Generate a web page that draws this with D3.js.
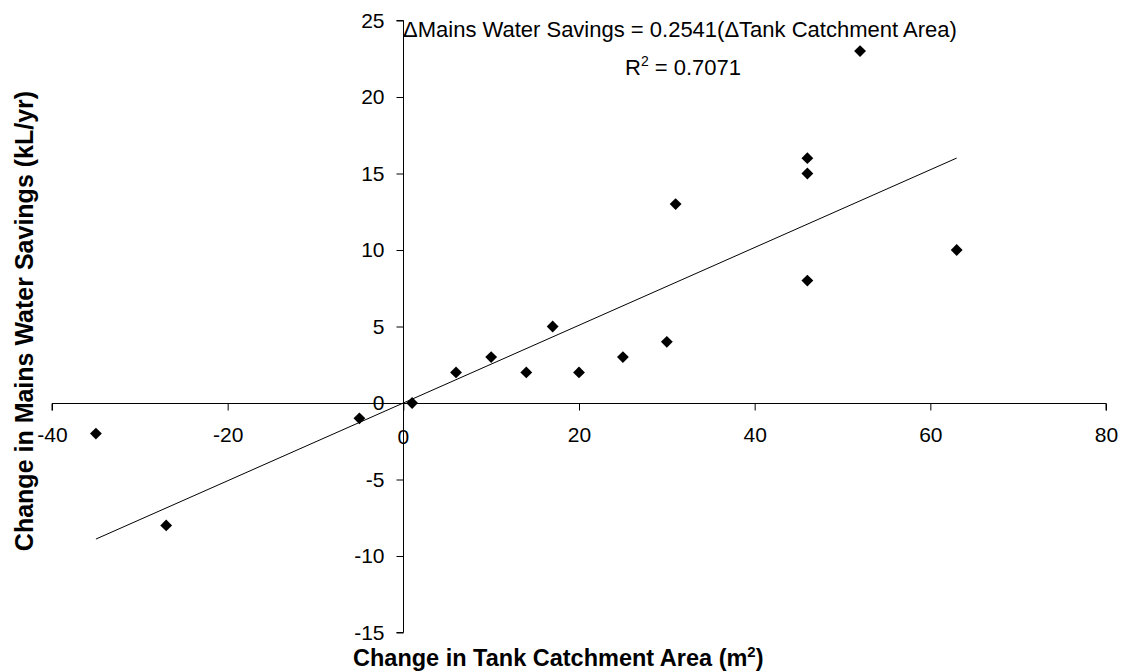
<!DOCTYPE html>
<html><head><meta charset="utf-8">
<script src="https://cdn.jsdelivr.net/npm/d3@7"></script>
<style>body{margin:0;background:#fff}svg{display:block}</style>
</head><body>
<svg id="c" width="1129" height="672"></svg>
<script>
const xValues = [-35, -27, -5, 1, 6, 10, 14, 17, 20, 25, 30, 31, 46, 46, 46, 52, 63];
const yValues = [-2, -8, -1, 0, 2, 3, 2, 5, 2, 3, 4, 13, 16, 15, 8, 23, 10];
const xTicks = [-40, -20, 0, 20, 40, 60, 80];
const yTicks = [-15, -10, -5, 0, 5, 10, 15, 20, 25];
const slope = 0.2541;
const trendRange = [-35, 63];
const eqText = "\u0394Mains Water Savings = 0.2541(\u0394Tank Catchment Area)";
const r2Value = "0.7071";
const xTitle = "Change in Tank Catchment Area (m";
const yTitle = "Change in Mains Water Savings (kL/yr)";

const svg = d3.select("#c");
const font = "'Liberation Sans', Arial, sans-serif";
const x = d3.scaleLinear().domain([-40, 80]).range([52, 1106]);
const y = d3.scaleLinear().domain([-15, 25]).range([632.5, 20.5]);
const fmt = d => String(d);

// x axis at y=0
const xg = svg.append("g").attr("transform", `translate(0,${Math.round(y(0))+0.5})`)
  .call(d3.axisBottom(x).tickValues(xTicks).tickSize(7).tickPadding(17).tickFormat(d => d === 0 ? "" : fmt(d)));
xg.select(".domain").attr("d", `M${x(-40)},7V0H${x(80)}V7`);
xg.selectAll("text").attr("font-family", font).attr("font-size", 21).attr("fill", "#000");
xg.selectAll("line,path").attr("stroke", "#000");

const yg = svg.append("g").attr("transform", `translate(${Math.round(x(0))+0.5},0)`)
  .call(d3.axisLeft(y).tickValues(yTicks).tickSize(7).tickPadding(12).tickFormat(fmt));
yg.select(".domain").attr("d", `M-7,${y(25)}H0V${y(-15)}H-7`);
yg.selectAll("text").attr("font-family", font).attr("font-size", 21).attr("fill", "#000");
yg.selectAll("line,path").attr("stroke", "#000");
// x-axis 0 label below
svg.append("text").attr("x", x(0)).attr("y", y(0) + 41).attr("text-anchor", "middle")
  .attr("font-family", font).attr("font-size", 21).text("0");

// trendline
svg.append("line")
  .attr("x1", x(trendRange[0])).attr("y1", y(slope * trendRange[0]))
  .attr("x2", x(trendRange[1])).attr("y2", y(slope * trendRange[1]))
  .attr("stroke", "#000").attr("stroke-width", 1);

// points
const diamond = d3.symbol().type(d3.symbolSquare).size(70);
svg.append("g").selectAll("path").data(xValues.map((v, i) => [v, yValues[i]])).join("path")
  .attr("d", diamond)
  .attr("transform", d => `translate(${x(d[0])},${y(d[1])}) rotate(45)`)
  .attr("fill", "#000");

// equation
svg.append("text").attr("x", 403).attr("y", 37).attr("font-family", font).attr("font-size", 22).text(eqText);
const r2 = svg.append("text").attr("x", 625).attr("y", 75).attr("font-family", font).attr("font-size", 22);
r2.append("tspan").text("R");
r2.append("tspan").attr("dy", -9).attr("font-size", 14).text("2");
r2.append("tspan").attr("dy", 9).text(" = " + r2Value);

// axis titles
const xt = svg.append("text").attr("x", 353).attr("y", 666)
  .attr("font-family", font).attr("font-size", 23.5).attr("font-weight", "bold");
xt.append("tspan").text(xTitle);
xt.append("tspan").attr("dy", -9).attr("font-size", 15).text("2");
xt.append("tspan").attr("dy", 9).text(")");

svg.append("text").attr("transform", "translate(33,321) rotate(-90)").attr("text-anchor", "middle")
  .attr("font-family", font).attr("font-size", 25).attr("font-weight", "bold").text(yTitle);
</script>
</body></html>
